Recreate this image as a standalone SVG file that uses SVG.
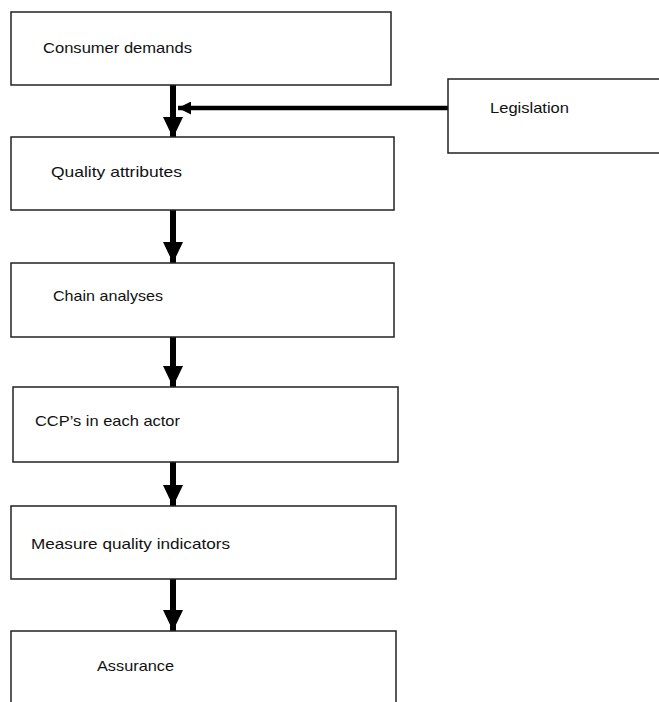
<svg xmlns="http://www.w3.org/2000/svg" width="659" height="702" viewBox="0 0 659 702">
<style>
.box{fill:#fff;stroke:#222;stroke-width:1.5}
.lbl{font-family:"Liberation Sans",Arial,sans-serif;font-size:15px;fill:#111}
.conn{stroke:#000;fill:none}
.v{stroke-width:6}
.h{stroke-width:4.5}
</style>
<defs>
<marker id="ahV" markerUnits="userSpaceOnUse" markerWidth="22" markerHeight="21" refX="21" refY="10" orient="auto" viewBox="0 0 22 21">
<path d="M0,0 L21,10 L0,20 z" fill="#000"/>
</marker>
<marker id="ahH" markerUnits="userSpaceOnUse" markerWidth="13" markerHeight="13" refX="13" refY="6.5" orient="auto" viewBox="0 0 13 13">
<path d="M0,0 L13,6.5 L0,13 z" fill="#000"/>
</marker>
</defs>
<rect width="659" height="702" fill="#fff"/>
<g id="connectors">
<line class="conn v" x1="173" y1="85" x2="173" y2="138" marker-end="url(#ahV)"/>
<line class="conn h" x1="448" y1="108" x2="178" y2="108" marker-end="url(#ahH)"/>
<line class="conn v" x1="173" y1="210" x2="173" y2="263" marker-end="url(#ahV)"/>
<line class="conn v" x1="173" y1="337" x2="173" y2="387" marker-end="url(#ahV)"/>
<line class="conn v" x1="173" y1="462" x2="173" y2="506" marker-end="url(#ahV)"/>
<line class="conn v" x1="173" y1="579" x2="173" y2="631" marker-end="url(#ahV)"/>
</g>
<g id="consumer-demands">
<rect class="box" x="11" y="12" width="380" height="73"/>
<text class="lbl" x="43" y="53" textLength="149" lengthAdjust="spacingAndGlyphs">Consumer demands</text>
</g>
<g id="legislation">
<rect class="box" x="448" y="79" width="220" height="74"/>
<text class="lbl" x="490" y="113" textLength="79" lengthAdjust="spacingAndGlyphs">Legislation</text>
</g>
<g id="quality-attributes">
<rect class="box" x="11" y="137" width="383" height="73"/>
<text class="lbl" x="51" y="177" textLength="131" lengthAdjust="spacingAndGlyphs">Quality attributes</text>
</g>
<g id="chain-analyses">
<rect class="box" x="11" y="263" width="383" height="74"/>
<text class="lbl" x="53" y="301" textLength="110" lengthAdjust="spacingAndGlyphs">Chain analyses</text>
</g>
<g id="ccps">
<rect class="box" x="13" y="387" width="385" height="75"/>
<text class="lbl" x="35" y="426" textLength="145" lengthAdjust="spacingAndGlyphs">CCP’s in each actor</text>
</g>
<g id="measure">
<rect class="box" x="11" y="506" width="385" height="73"/>
<text class="lbl" x="31" y="549" textLength="199" lengthAdjust="spacingAndGlyphs">Measure quality indicators</text>
</g>
<g id="assurance">
<rect class="box" x="11" y="631" width="385" height="90"/>
<text class="lbl" x="97" y="671" textLength="77" lengthAdjust="spacingAndGlyphs">Assurance</text>
</g>
</svg>
